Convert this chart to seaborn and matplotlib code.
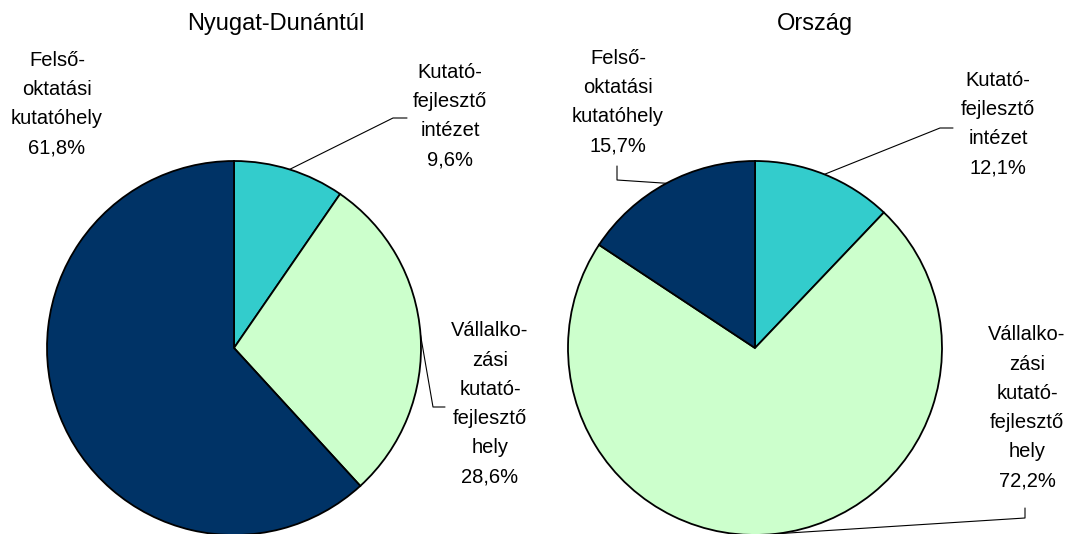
import numpy as np
import matplotlib
matplotlib.use("Agg")
import matplotlib.pyplot as plt
import seaborn as sns

sns.set_theme(style="white")
plt.rcParams['font.family'] = ['Liberation Sans', 'DejaVu Sans']
plt.rcParams['text.color'] = 'black'

# data
categories = ["Kutató-\nfejlesztő\nintézet",
              "Vállalko-\nzási\nkutató-\nfejlesztő\nhely",
              "Felső-\noktatási\nkutatóhely"]
regions = ["Nyugat-Dunántúl", "Ország"]
shares_nyd = [9.6, 28.6, 61.8]
shares_orszag = [12.1, 72.2, 15.7]
colors = ["#33CCCC", "#CCFFCC", "#003366"]

W, H = 1070, 534
R = 187

# layout (pixel positions, y measured from top)
pie_centers = [(234, 348), (755, 348)]
title_pos = [(276, 24), (815, 24)]
label_pos = [
    [(450, 116), (490, 404), (57, 104)],
    [(998, 124), (1027, 408), (618, 102)],
]
# elbow of leader line, end of leader line (None = no leader)
leaders = [
    [((393, 118), (407, 118)), ((433, 407), (445, 407)), None],
    [((940, 128), (953, 128)), ((1025, 518), (1025, 508)), ((617, 180), (617, 166))],
]

fig = plt.figure(figsize=(W / 100, H / 100), dpi=100)
ax = fig.add_axes([0, 0, 1, 1])

for i, vals in enumerate([shares_nyd, shares_orszag]):
    cx, cy = pie_centers[i]
    wedges, _ = ax.pie(vals, colors=colors, startangle=90, counterclock=False,
                       center=(cx, H - cy), radius=R,
                       wedgeprops=dict(edgecolor="black", linewidth=1.3))
    tx, ty = title_pos[i]
    ax.text(tx, H - ty, regions[i], ha="center", va="center", fontsize=17)
    for j, w in enumerate(wedges):
        lx, ly = label_pos[i][j]
        ax.text(lx, H - ly, f"{categories[j]}\n{vals[j]:.1f}%".replace(".", ","),
                ha="center", va="center", multialignment="center",
                fontsize=14.5, linespacing=1.68)
        if leaders[i][j] is not None:
            mid = np.deg2rad((w.theta1 + w.theta2) / 2)
            sx, sy = cx + R * np.cos(mid), (H - cy) + R * np.sin(mid)
            (ex, ey), (fx, fy) = leaders[i][j]
            ax.plot([sx, ex, fx], [sy, H - ey, H - fy], color="black", lw=0.8)

ax.set_xlim(0, W)
ax.set_ylim(0, H)
ax.set_aspect("equal")
ax.axis("off")

fig.savefig("out.png", dpi=100)
